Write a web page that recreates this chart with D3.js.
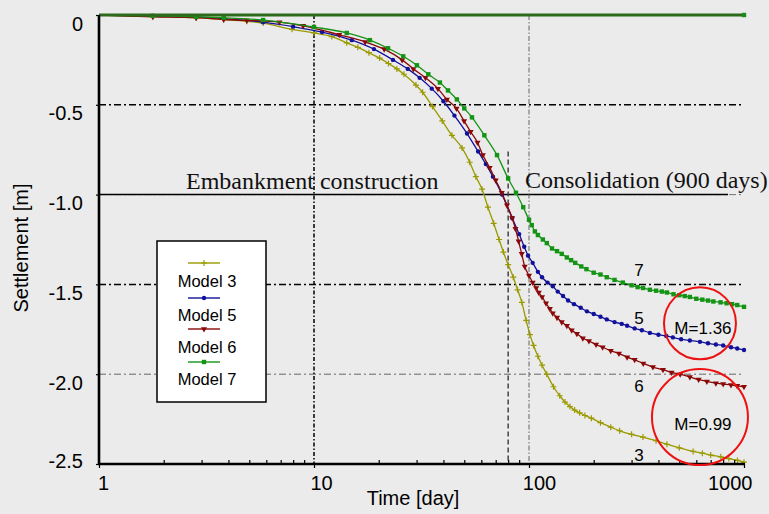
<!DOCTYPE html>
<html>
<head>
<meta charset="utf-8">
<script src="https://cdn.jsdelivr.net/npm/d3@7"></script>
<style>
  html, body { margin: 0; padding: 0; background: #ebebeb; }
  svg { display: block; font-family: "Liberation Sans", Arial, Helvetica, sans-serif; }
</style>
</head>
<body>
<svg id="chart" width="769" height="514"></svg>
<script>
// ── Data: [time in days, settlement in m] ───────────────────────────────────
const model3 = [[1,0],[1.78,-0.008],[2.83,-0.015],[3.8,-0.025],[4.87,-0.035],[5.8,-0.045],[7.9,-0.08],[10,-0.1],
  [12.1,-0.12],[14.2,-0.155],[16,-0.18],[18,-0.21],[20.2,-0.24],[22.2,-0.27],[24.3,-0.30],[26.2,-0.33],[29.8,-0.39],
  [32,-0.43],[35.6,-0.51],[39.5,-0.59],[43.8,-0.67],[48.8,-0.74],[53,-0.82],[56.6,-0.9],[60.5,-0.97],[64.4,-1.07],
  [68.5,-1.16],[72.6,-1.25],[76,-1.32],[80,-1.39],[84.5,-1.46],[88.5,-1.53],[92.6,-1.60],[97,-1.70],[101,-1.78],
  [105,-1.84],[110,-1.90],[115,-1.95],[121,-2.0],[130,-2.07],[139,-2.12],[147,-2.155],[155,-2.18],[163,-2.20],
  [172,-2.215],[182,-2.23],[195,-2.245],[215,-2.27],[240,-2.295],[264,-2.315],[300,-2.335],[339,-2.35],[390,-2.37],
  [438,-2.39],[500,-2.41],[580,-2.43],[640,-2.44],[700,-2.45],[780,-2.46],[850,-2.47],[933,-2.48],[1000,-2.49]];

const model5 = [[1,0],[1.78,-0.006],[2.83,-0.012],[3.8,-0.02],[5.8,-0.04],[8,-0.065],[10.9,-0.095],[15,-0.14],
  [19,-0.19],[23.3,-0.25],[27.3,-0.30],[31,-0.35],[35.3,-0.41],[40,-0.48],[45,-0.56],[51.5,-0.66],[58,-0.76],
  [63,-0.83],[68,-0.90],[75,-1.0],[83.5,-1.13],[90,-1.22],[95,-1.29],[99,-1.34],[104,-1.38],[110,-1.43],[115,-1.46],
  [122,-1.49],[129,-1.51],[136,-1.54],[144,-1.565],[152,-1.59],[162,-1.61],[174,-1.63],[186,-1.65],[200,-1.665],
  [215,-1.68],[230,-1.695],[250,-1.71],[270,-1.72],[286,-1.73],[310,-1.745],[335,-1.755],[365,-1.77],[400,-1.78],
  [435,-1.787],[467,-1.795],[510,-1.805],[560,-1.812],[624,-1.82],[680,-1.828],[740,-1.835],[800,-1.84],
  [870,-1.85],[930,-1.857],[1000,-1.865]];

const model6 = [[1,0],[1.78,-0.01],[2.83,-0.015],[3.8,-0.025],[4.87,-0.03],[6.9,-0.04],[8.9,-0.06],[13.1,-0.11],
  [17.3,-0.15],[21.2,-0.19],[25.7,-0.25],[29,-0.30],[33,-0.35],[37.7,-0.41],[41.5,-0.47],[46,-0.52],[49.9,-0.59],
  [53.5,-0.65],[57.6,-0.71],[61,-0.78],[65.6,-0.85],[70,-0.92],[74.7,-0.99],[79,-1.06],[83.5,-1.13],[86.5,-1.19],
  [89.5,-1.26],[92.5,-1.33],[95.5,-1.40],[100,-1.45],[104,-1.49],[108,-1.52],[111,-1.545],[115,-1.57],[120,-1.605],
  [125,-1.635],[129,-1.66],[135,-1.685],[142,-1.71],[150,-1.73],[158,-1.755],[167,-1.775],[178,-1.80],[190,-1.815],
  [205,-1.835],[220,-1.85],[240,-1.87],[262,-1.885],[286,-1.905],[310,-1.92],[340,-1.94],[377,-1.96],[420,-1.975],
  [460,-1.99],[505,-2.0],[560,-2.015],[615,-2.03],[672,-2.04],[740,-2.05],[800,-2.055],[870,-2.06],[930,-2.065],
  [1000,-2.07]];

const model7 = [[1,0],[1.78,-0.005],[2.83,-0.01],[3.8,-0.015],[5.8,-0.028],[10,-0.067],[14.2,-0.10],[18.2,-0.14],
  [22.1,-0.185],[26,-0.23],[30.1,-0.28],[34,-0.33],[38.5,-0.376],[42,-0.42],[46.2,-0.47],[50,-0.52],[54.3,-0.57],
  [62,-0.67],[71,-0.78],[80,-0.91],[87,-0.99],[94,-1.07],[100,-1.14],[103,-1.17],[106.5,-1.205],[110,-1.225],
  [116,-1.25],[121,-1.27],[128,-1.30],[135,-1.315],[142,-1.33],[150,-1.35],[157,-1.365],[164,-1.38],[175,-1.40],
  [185,-1.415],[200,-1.435],[215,-1.445],[230,-1.46],[250,-1.475],[273,-1.49],[300,-1.505],[320,-1.515],
  [339,-1.52],[365,-1.53],[390,-1.535],[415,-1.54],[438,-1.545],[470,-1.555],[500,-1.56],[530,-1.565],[560,-1.57],
  [600,-1.58],[640,-1.585],[680,-1.59],[720,-1.595],[778,-1.60],[830,-1.605],[880,-1.61],[930,-1.615],[1000,-1.625]];

const zeroLine = [[1,0],[1000,0]];

const seriesNames = ['Model 3', 'Model 5', 'Model 6', 'Model 7'];
const curveLabels = ['3', '5', '6', '7'];
const labelT = 325;
const labelS = [-2.483, -1.722, -2.1, -1.456];

const yTicks = [0, -0.5, -1.0, -1.5, -2.0, -2.5];
const yTickLabels = ['0', '-0.5', '-1.0', '-1.5', '-2.0', '-2.5'];
const xTicks = [1, 10, 100, 1000];
const xTickLabels = ['1', '10', '100', '1000'];
const xMinor = [2,3,4,5,6,7,8,9,20,30,40,50,60,70,80,90,200,300,400,500,600,700,800,900];

const endOfConstruction = 80;      // day
const constructionTopS = -0.76;
const circleT = 624;
const circleS = [-1.717, -2.239];
const circleText = ['M=1.36', 'M=0.99'];

// ── Layout ───────────────────────────────────────────────────────────────────
const svg = d3.select('#chart');
const W = 769, H = 514;
svg.append('rect').attr('width', W).attr('height', H).attr('fill', '#ebebeb');

const x = d3.scaleLog().domain([1, 1000]).range([99, 744]);
const y = d3.scaleLinear().domain([-2.5, 0]).range([464, 15]);

const colors = ['#9a9a00', '#10109a', '#8a0808', '#149414'];
const dashDot = '7,3,2,3';

// horizontal grid
const gridStyle = {
  '0': ['#000', 1.5], '-0.5': ['#000', 1.5], '-1': ['#777', 1], '-1.5': ['#000', 1.5], '-2': ['#666', 1]
};
yTicks.filter(v => v > -2.5).forEach(v => {
  const st = gridStyle[String(v)];
  svg.append('line')
    .attr('x1', x(1)).attr('x2', x(1000))
    .attr('y1', y(v)).attr('y2', y(v))
    .attr('stroke', st[0]).attr('stroke-width', st[1])
    .attr('stroke-dasharray', dashDot);
});

// construction / consolidation separator
svg.append('line')
  .attr('x1', x(1)).attr('x2', 728)
  .attr('y1', y(-1)).attr('y2', y(-1))
  .attr('stroke', '#000').attr('stroke-width', 1.5);

// vertical grid
svg.append('line')
  .attr('x1', x(10)).attr('x2', x(10)).attr('y1', y(0)).attr('y2', y(-2.5))
  .attr('stroke', '#000').attr('stroke-width', 1.5).attr('stroke-dasharray', '4,2,1.5,2');
svg.append('line')
  .attr('x1', x(100)).attr('x2', x(100)).attr('y1', y(0)).attr('y2', y(-2.5))
  .attr('stroke', '#555').attr('stroke-width', 0.9).attr('stroke-dasharray', '5,2,1.5,2');
svg.append('line')
  .attr('x1', x(endOfConstruction)).attr('x2', x(endOfConstruction))
  .attr('y1', y(constructionTopS)).attr('y2', y(-2.5))
  .attr('stroke', '#444').attr('stroke-width', 1.5).attr('stroke-dasharray', '5,3');

// ── Curves ───────────────────────────────────────────────────────────────────
const line = d3.line()
  .x(d => x(d[0])).y(d => y(d[1]))
  .curve(d3.curveMonotoneX);

function drawMarker(g, kind, cx, cy, color) {
  if (kind === 0) {
    g.append('path')
      .attr('d', `M${cx - 3},${cy}H${cx + 3}M${cx},${cy - 3}V${cy + 3}`)
      .attr('stroke', color).attr('stroke-width', 1.2).attr('fill', 'none');
  } else if (kind === 1) {
    g.append('circle').attr('cx', cx).attr('cy', cy).attr('r', 2.2).attr('fill', color);
  } else if (kind === 2) {
    g.append('path')
      .attr('d', d3.symbol(d3.symbolTriangle, 16)())
      .attr('transform', `translate(${cx},${cy}) rotate(180)`)
      .attr('fill', color);
  } else {
    g.append('rect').attr('x', cx - 2.2).attr('y', cy - 2.2)
      .attr('width', 4.4).attr('height', 4.4).attr('fill', color);
  }
}

const allModels = [model3, model5, model6, model7];
allModels.forEach((pts, i) => {
  const g = svg.append('g');
  g.append('path').datum(pts)
    .attr('d', line)
    .attr('fill', 'none')
    .attr('stroke', colors[i])
    .attr('stroke-width', 1.3);
  pts.slice(1).forEach(p => drawMarker(g, i, x(p[0]), y(p[1]), colors[i]));
});

// zero reference line along the top
svg.append('path').datum(zeroLine)
  .attr('d', line).attr('fill', 'none')
  .attr('stroke', '#2d6a1c').attr('stroke-width', 3);
drawMarker(svg, 3, x(1000), y(0), '#1c8a1c');

// ── Axes ─────────────────────────────────────────────────────────────────────
const yAxis = svg.append('g')
  .attr('transform', `translate(${x(1)},0)`)
  .call(d3.axisLeft(y).tickValues(yTicks).tickSize(3).tickPadding(13)
    .tickFormat((d, i) => yTickLabels[i]));
yAxis.select('.domain').attr('stroke', '#000').attr('stroke-width', 2.6)
  .attr('d', `M0,${y(0)}V${y(-2.5) + 1}`);
yAxis.selectAll('.tick line').attr('stroke', '#000').attr('stroke-width', 1.2);
yAxis.selectAll('.tick text')
  .attr('font-size', 20).attr('fill', '#000')
  .attr('font-family', '"Liberation Sans", Arial, sans-serif')
  .attr('dy', (d, i) => i === yTicks.length - 1 ? 3 : 15);

const xAxis = svg.append('g')
  .attr('transform', `translate(0,${y(-2.5)})`)
  .call(d3.axisBottom(x).tickValues(xTicks).tickSize(4)
    .tickFormat((d, i) => xTickLabels[i]));
xAxis.select('.domain').attr('stroke', '#000').attr('stroke-width', 2.6)
  .attr('d', `M${x(1) - 1},0H${x(1000) + 1}`);
xAxis.selectAll('.tick line').attr('stroke', '#000').attr('stroke-width', 1.2);
xAxis.selectAll('.tick text')
  .attr('font-size', 20).attr('fill', '#000')
  .attr('font-family', '"Liberation Sans", Arial, sans-serif')
  .attr('y', 26).attr('dy', 0)
  .attr('text-anchor', (d, i) => i === xTicks.length - 1 ? 'end' : 'middle')
  .attr('dx', (d, i) => i === xTicks.length - 1 ? 8 : 4 + 3 * (xTickLabels[i].length - 1));

const minorAxis = svg.append('g')
  .attr('transform', `translate(0,${y(-2.5)})`)
  .call(d3.axisBottom(x).tickValues(xMinor).tickSize(-4).tickFormat(''));
minorAxis.select('.domain').remove();
minorAxis.selectAll('.tick line').attr('stroke', '#000').attr('stroke-width', 1.2);

svg.append('text')
  .attr('x', 413).attr('y', 505)
  .attr('text-anchor', 'middle').attr('font-size', 20)
  .text('Time [day]');

svg.append('text')
  .attr('transform', 'translate(28,248) rotate(-90)')
  .attr('text-anchor', 'middle').attr('font-size', 20)
  .text('Settlement [m]');

// ── Phase labels ─────────────────────────────────────────────────────────────
svg.append('text')
  .attr('x', 186).attr('y', 189)
  .attr('font-family', '"Liberation Serif", "Times New Roman", serif')
  .attr('font-size', 24).attr('fill', '#111')
  .text('Embankment construction');
svg.append('text')
  .attr('x', 525).attr('y', 188)
  .attr('font-family', '"Liberation Serif", "Times New Roman", serif')
  .attr('font-size', 24).attr('fill', '#111')
  .text('Consolidation (900 days)');

// ── Curve numbers ────────────────────────────────────────────────────────────
curveLabels.forEach((lab, i) => {
  svg.append('text')
    .attr('x', x(labelT)).attr('y', y(labelS[i]))
    .attr('text-anchor', 'middle').attr('font-size', 17)
    .text(lab);
});

// ── Red circles ──────────────────────────────────────────────────────────────
const radii = [36, 48];
circleS.forEach((s, i) => {
  svg.append('circle')
    .attr('cx', x(circleT)).attr('cy', y(s)).attr('r', radii[i])
    .attr('fill', 'none').attr('stroke', '#ee1111').attr('stroke-width', 2);
  svg.append('text')
    .attr('x', x(circleT) + 3).attr('y', y(s) + 11 + i * 2)
    .attr('text-anchor', 'middle').attr('font-size', 17)
    .text(circleText[i]);
});

// ── Legend ───────────────────────────────────────────────────────────────────
const legend = svg.append('g');
legend.append('rect')
  .attr('x', 157).attr('y', 241).attr('width', 109).attr('height', 161)
  .attr('fill', '#fff').attr('stroke', '#000').attr('stroke-width', 1.5);
const legLineY = [263, 298, 329, 362];
const legTextY = [287, 321, 353, 385];
seriesNames.forEach((name, i) => {
  legend.append('line')
    .attr('x1', 188).attr('x2', 220)
    .attr('y1', legLineY[i]).attr('y2', legLineY[i])
    .attr('stroke', colors[i]).attr('stroke-width', 1.4);
  drawMarker(legend, i, 204, legLineY[i], colors[i]);
  legend.append('text')
    .attr('x', 207).attr('y', legTextY[i])
    .attr('text-anchor', 'middle').attr('font-size', 16.5)
    .text(name);
});
</script>
</body>
</html>
